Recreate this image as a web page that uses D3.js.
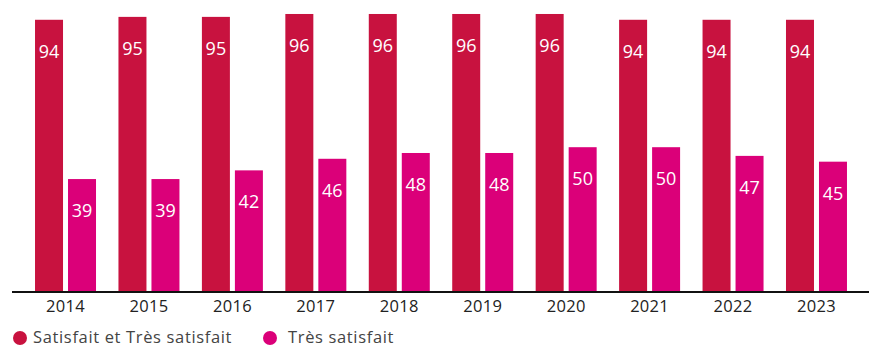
<!DOCTYPE html>
<html>
<head>
<meta charset="utf-8">
<script src="https://cdn.jsdelivr.net/npm/d3@7/dist/d3.min.js"></script>
<style>
  html, body { margin: 0; padding: 0; background: #fff; }
  svg { display: block; font-family: "Open Sans", Lato, sans-serif; }
</style>
</head>
<body>
<svg id="chart" width="869" height="347"></svg>
<script>
// Satisfaction par année (%)
const years = ["2014", "2015", "2016", "2017", "2018", "2019", "2020", "2021", "2022", "2023"];
const satisfaitEtTres = [94, 95, 95, 96, 96, 96, 96, 94, 94, 94];
const tresSatisfait = [39, 39, 42, 46, 48, 48, 50, 50, 47, 45];
const seriesNames = ["Satisfait et Très satisfait", "Très satisfait"];
const seriesColors = ["#C8123F", "#DB0079"];

const rows = years.map((y, i) => ({ year: y, values: [satisfaitEtTres[i], tresSatisfait[i]] }));

const svg = d3.select("#chart");
const baseline = 292;

const x0 = d3.scaleBand()
  .domain(years)
  .range([23.8, 858.2])
  .paddingInner(0.269)
  .paddingOuter(0.1345);

const x1 = d3.scaleBand()
  .domain([0, 1])
  .range([0, x0.bandwidth()])
  .paddingInner(0.1515);

const y = d3.scaleLinear().domain([0, 100]).range([baseline, 2.4]);

const groups = svg.append("g")
  .selectAll("g")
  .data(rows)
  .join("g")
  .attr("transform", d => `translate(${x0(d.year)},0)`);

groups.selectAll("rect")
  .data(d => d.values.map((v, k) => ({ v, k })))
  .join("rect")
  .attr("x", d => x1(d.k))
  .attr("y", d => y(d.v))
  .attr("width", x1.bandwidth())
  .attr("height", d => baseline - y(d.v))
  .attr("fill", d => seriesColors[d.k]);

groups.selectAll("text.val")
  .data(d => d.values.map((v, k) => ({ v, k })))
  .join("text")
  .attr("class", "val")
  .attr("x", d => x1(d.k) + x1.bandwidth() / 2)
  .attr("y", d => y(d.v) + 31)
  .attr("text-anchor", "middle")
  .attr("dominant-baseline", "central")
  .attr("fill", "#fff")
  .attr("font-size", 18)
  .text(d => d.v);

// Axe des années
const axis = svg.append("g")
  .attr("transform", `translate(0,${baseline})`)
  .call(d3.axisBottom(x0).tickSize(0).tickPadding(8));
axis.select(".domain").remove();
axis.selectAll("text")
  .attr("font-size", 16.5)
  .attr("font-family", "'Open Sans', sans-serif")
  .attr("letter-spacing", 0.3)
  .attr("fill", "#222");

svg.append("line")
  .attr("x1", 12).attr("x2", 869)
  .attr("y1", baseline).attr("y2", baseline)
  .attr("stroke", "#111")
  .attr("stroke-width", 2);

// Légende
const legendX = [20, 270];
const legend = svg.append("g")
  .selectAll("g")
  .data(seriesNames)
  .join("g")
  .attr("transform", (d, i) => `translate(${legendX[i]},338)`);
legend.append("circle").attr("r", 7).attr("fill", (d, i) => seriesColors[i]);
legend.append("text")
  .attr("x", (d, i) => i === 0 ? 13 : 18)
  .attr("y", 5)
  .attr("font-size", 16.5)
  .attr("letter-spacing", 0.65)
  .attr("fill", "#444")
  .text(d => d);
</script>
</body>
</html>
